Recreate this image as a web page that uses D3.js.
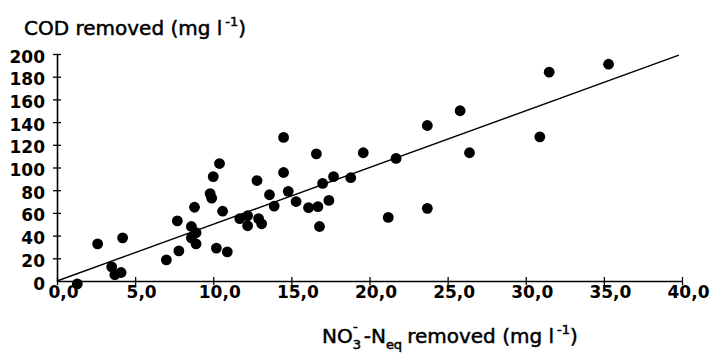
<!DOCTYPE html>
<html>
<head>
<meta charset="utf-8">
<script src="https://cdn.jsdelivr.net/npm/d3@7"></script>
<style>
  body { margin: 0; background: #fff; }
  text { font-family: "DejaVu Sans", sans-serif; fill: #000; }
</style>
</head>
<body>
<svg id="svg"></svg>
<script>
// data
var no3Removed = [1.3, 2.6, 4.2, 3.5, 3.7, 4.1, 7.0, 7.8, 7.7, 8.8,
                  8.6, 8.9, 8.6, 8.9, 10.6, 10.2, 10.9, 11.7, 12.2, 12.2,
                  12.9, 13.1, 10.4, 10.0, 9.8, 9.9, 12.8, 13.6, 14.5, 16.6,
                  19.6, 14.5, 14.8, 13.9, 15.3, 17.0, 17.7, 18.8, 16.1, 16.7,
                  17.4, 16.8, 21.7, 23.7, 25.8, 26.4, 30.9, 31.5, 35.3, 21.2,
                  23.7];
var codRemoved = [-2.5, 32.7, 38, 12.4, 5.5, 7.5, 18.6, 26.5, 53, 65,
                  48, 42.5, 38, 32.7, 61.5, 29, 25.7, 55, 57.5, 48.7,
                  55, 50.4, 103.5, 92, 77, 73, 88.5, 76, 126.5, 112,
                  113, 95.6, 79, 66, 70, 86, 92, 91, 64.6, 65.5,
                  71, 48, 108, 137, 150, 113, 127, 184, 191, 56,
                  64];
var fitLine = [[0, 0], [39.8, 199]];
var xTicks = [0, 5, 10, 15, 20, 25, 30, 35, 40];
var yTicks = [0, 20, 40, 60, 80, 100, 120, 140, 160, 180, 200];

var width = 714, height = 357;

var svg = d3.select("#svg")
    .attr("width", width)
    .attr("height", height);

var x = d3.scaleLinear().domain([0, 40]).range([57, 682]);
var y = d3.scaleLinear().domain([0, 200]).range([281, 54]);

var fmt = function(d) { return d3.format(".1f")(d).replace(".", ","); };

// x axis
var gx = svg.append("g")
    .attr("transform", "translate(0," + y(0) + ")")
    .call(d3.axisBottom(x).tickValues(xTicks).tickFormat(fmt).tickSize(4).tickSizeOuter(0));
gx.selectAll(".tick line").attr("y1", -4).attr("stroke-width", 1.3);
gx.select(".domain").attr("stroke-width", 1.6);
gx.selectAll(".tick text")
    .attr("y", 17).attr("dy", 0).attr("x", 6)
    .style("font-size", "17px").style("font-weight", "bold");

// y axis
var gy = svg.append("g")
    .attr("transform", "translate(" + x(0) + ",0)")
    .call(d3.axisLeft(y).tickValues(yTicks).tickSize(4).tickSizeOuter(0));
gy.selectAll(".tick line").attr("x1", 4).attr("stroke-width", 1.3);
gy.select(".domain").attr("stroke-width", 1.6);
gy.selectAll(".tick text")
    .attr("x", -12).attr("dy", 0).attr("y", 8)
    .style("font-size", "17px").style("font-weight", "bold");
gy.selectAll(".tick").filter(function(d) { return d === 0; }).select("line").remove();

// regression line
svg.append("path")
    .datum(fitLine)
    .attr("fill", "none")
    .attr("stroke", "#000")
    .attr("stroke-width", 1.4)
    .attr("d", d3.line().x(function(d) { return x(d[0]); }).y(function(d) { return y(d[1]); }));

// points
svg.append("g").selectAll("circle")
    .data(no3Removed)
    .enter()
    .append("circle")
    .attr("cx", function(d) { return x(d); })
    .attr("cy", function(d, i) { return y(codRemoved[i]); })
    .attr("r", 5.4)
    .attr("fill", "#000");

// y title
var yt = svg.append("text")
    .attr("x", 24).attr("y", 35)
    .style("font-size", "20px")
    .attr("stroke", "#000").attr("stroke-width", 0.5);
yt.append("tspan").text("COD removed (mg l");
yt.append("tspan").attr("dx", 3).attr("dy", -9).style("font-size", "13px").text("-1");
yt.append("tspan").attr("dy", 9).text(")");

// x title
var xt = svg.append("text")
    .attr("x", 322).attr("y", 343)
    .style("font-size", "20px")
    .attr("stroke", "#000").attr("stroke-width", 0.5);
xt.append("tspan").text("NO");
xt.append("tspan").attr("dy", 6).style("font-size", "13px").text("3");
xt.append("tspan").attr("dx", -8).attr("dy", -18).style("font-size", "13px").text("-");
xt.append("tspan").attr("dx", 6).attr("dy", 12).text("-N");
xt.append("tspan").attr("dy", 6).style("font-size", "13px").text("eq");
xt.append("tspan").attr("dx", 5).attr("dy", -6).text("removed (mg l");
xt.append("tspan").attr("dx", 3).attr("dy", -9).style("font-size", "13px").text("-1");
xt.append("tspan").attr("dy", 9).text(")");
</script>
</body>
</html>
